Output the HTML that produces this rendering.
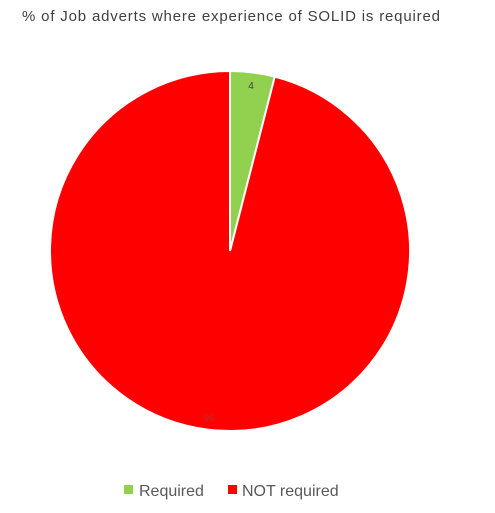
<!DOCTYPE html>
<html><head><meta charset="utf-8"><style>
body{margin:0;background:#fff;width:495px;height:508px;overflow:hidden;font-family:"Liberation Sans",sans-serif}
</style></head><body>
<svg width="495" height="508">
<text x="22" y="21" font-size="15" fill="#404040" textLength="418" lengthAdjust="spacing">% of Job adverts where experience of SOLID is required</text>
<g id="slices"></g>
<g>
<rect x="124" y="485" width="9" height="9" fill="#92d050"/>
<text x="139" y="496" font-size="16" fill="#595959">Required</text>
<rect x="228" y="485" width="9" height="9" fill="#ff0000"/>
<text x="242" y="496" font-size="16" fill="#595959">NOT required</text>
</g>
</svg>
<script>
const categories=["Required","NOT required"];
const values=[4,96];
const colors=["#92d050","#ff0000"];
const labelColors=["#404040","#c0282e"];
const cx=230,cy=251,r=180;
const g=document.getElementById('slices');
const ns="http://www.w3.org/2000/svg";
const total=values.reduce((a,b)=>a+b,0);
let a0=0;
values.forEach((v,i)=>{
  const a1=a0+v/total*2*Math.PI;
  const p=(a)=>[cx+r*Math.sin(a),cy-r*Math.cos(a)];
  const [x0,y0]=p(a0),[x1,y1]=p(a1);
  const large=(a1-a0)>Math.PI?1:0;
  const path=document.createElementNS(ns,'path');
  path.setAttribute('d',`M${cx},${cy}L${x0},${y0}A${r},${r} 0 ${large} 1 ${x1},${y1}Z`);
  path.setAttribute('fill',colors[i]);
  path.setAttribute('stroke','#fff');
  path.setAttribute('stroke-width','2');
  
  
  g.appendChild(path);
  const am=(a0+a1)/2, lr=r*0.93;
  const t=document.createElementNS(ns,'text');
  t.setAttribute('x',cx+lr*Math.sin(am));
  t.setAttribute('y',cy-lr*Math.cos(am)+4);
  t.setAttribute('text-anchor','middle');
  t.setAttribute('font-size','10');
  t.setAttribute('fill',labelColors[i]);
  t.textContent=values[i];
  
  
  g.appendChild(t);
  a0=a1;
});
</script>
</body></html>
